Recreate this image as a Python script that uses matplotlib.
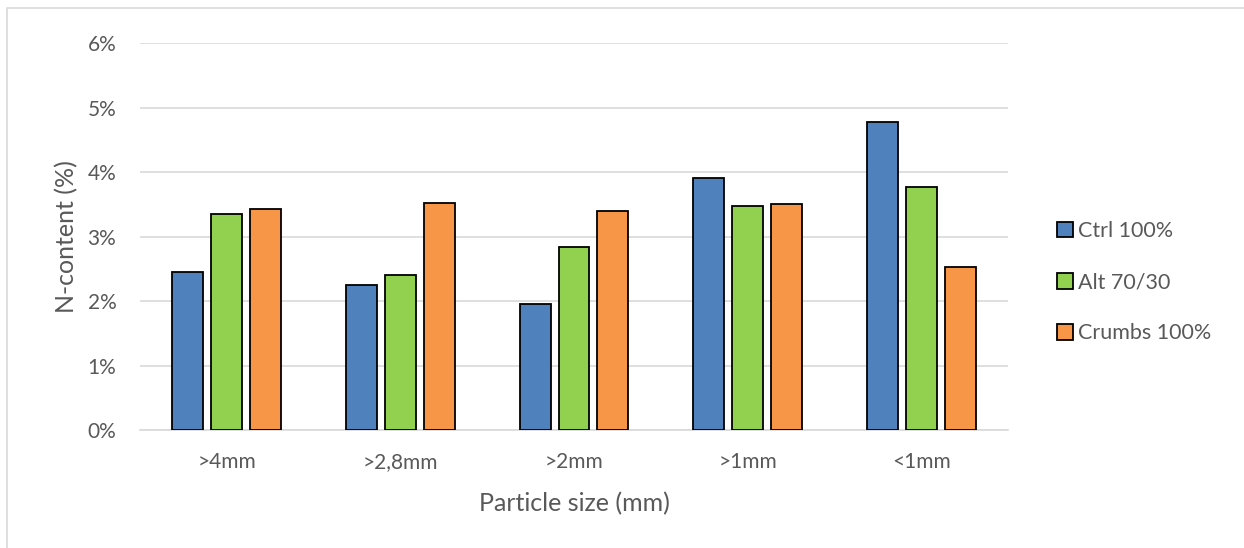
import numpy as np
import matplotlib
matplotlib.use('Agg')
import matplotlib.pyplot as plt
from matplotlib.patches import Rectangle

# N-content per particle size fraction
categories = ['>4mm', '>2,8mm', '>2mm', '>1mm', '<1mm']
ctrl_100 = [2.45, 2.25, 1.95, 3.90, 4.78]
alt_70_30 = [3.35, 2.40, 2.83, 3.47, 3.76]
crumbs_100 = [3.43, 3.52, 3.40, 3.50, 2.53]

series_names = ['Ctrl 100%', 'Alt 70/30', 'Crumbs 100%']
series_colors = ['#4F81BD', '#92D050', '#F79646']

plt.rcParams['font.family'] = ['Lato', 'DejaVu Sans']
text_color = '#595959'
grid_color = '#D9D9D9'

fig = plt.figure(figsize=(12.44, 5.48), dpi=100)
ax = fig.add_axes([0.1125, 0.2153, 0.6978, 0.7062])

# chart area frame
fig.patches.append(Rectangle((0.0056, -0.01), 0.999, 0.996, transform=fig.transFigure,
                             fill=False, edgecolor=grid_color, linewidth=1.2))

x = np.arange(len(categories))
width = 0.178
offset = 0.224
for i, (vals, name, color) in enumerate(zip([ctrl_100, alt_70_30, crumbs_100],
                                             series_names, series_colors)):
    ax.bar(x + (i - 1) * offset, vals, width, color=color, edgecolor='black',
           linewidth=1.3, label=name, zorder=3)

ax.set_xlim(-0.5, len(categories) - 0.5)
ax.set_ylim(0, 6)
ax.set_yticks(range(0, 7))
ax.set_yticklabels([f'{v}%' for v in range(0, 7)])
ax.set_xticks(x)
ax.set_xticklabels(categories)

ax.grid(axis='y', color=grid_color, linewidth=1.2, zorder=0)
for side in ['top', 'right', 'left']:
    ax.spines[side].set_visible(False)
ax.spines['bottom'].set_color(grid_color)
ax.spines['bottom'].set_linewidth(1.2)
ax.tick_params(axis='both', length=0, labelsize=15, labelcolor=text_color)
ax.tick_params(axis='y', pad=17)
ax.tick_params(axis='x', pad=16)

ax.set_xlabel('Particle size (mm)', fontsize=18, color=text_color, labelpad=14)
ax.set_ylabel('N-content (%)', fontsize=18, color=text_color, labelpad=7)

handles, labels = ax.get_legend_handles_labels()
leg = ax.legend(handles, labels, loc='center left', bbox_to_anchor=(1.034, 0.382),
                frameon=False, fontsize=15.5, handlelength=0.75, handleheight=0.75,
                handletextpad=0.25, labelspacing=1.45, labelcolor=text_color)

fig.savefig('out.png', dpi=100)
